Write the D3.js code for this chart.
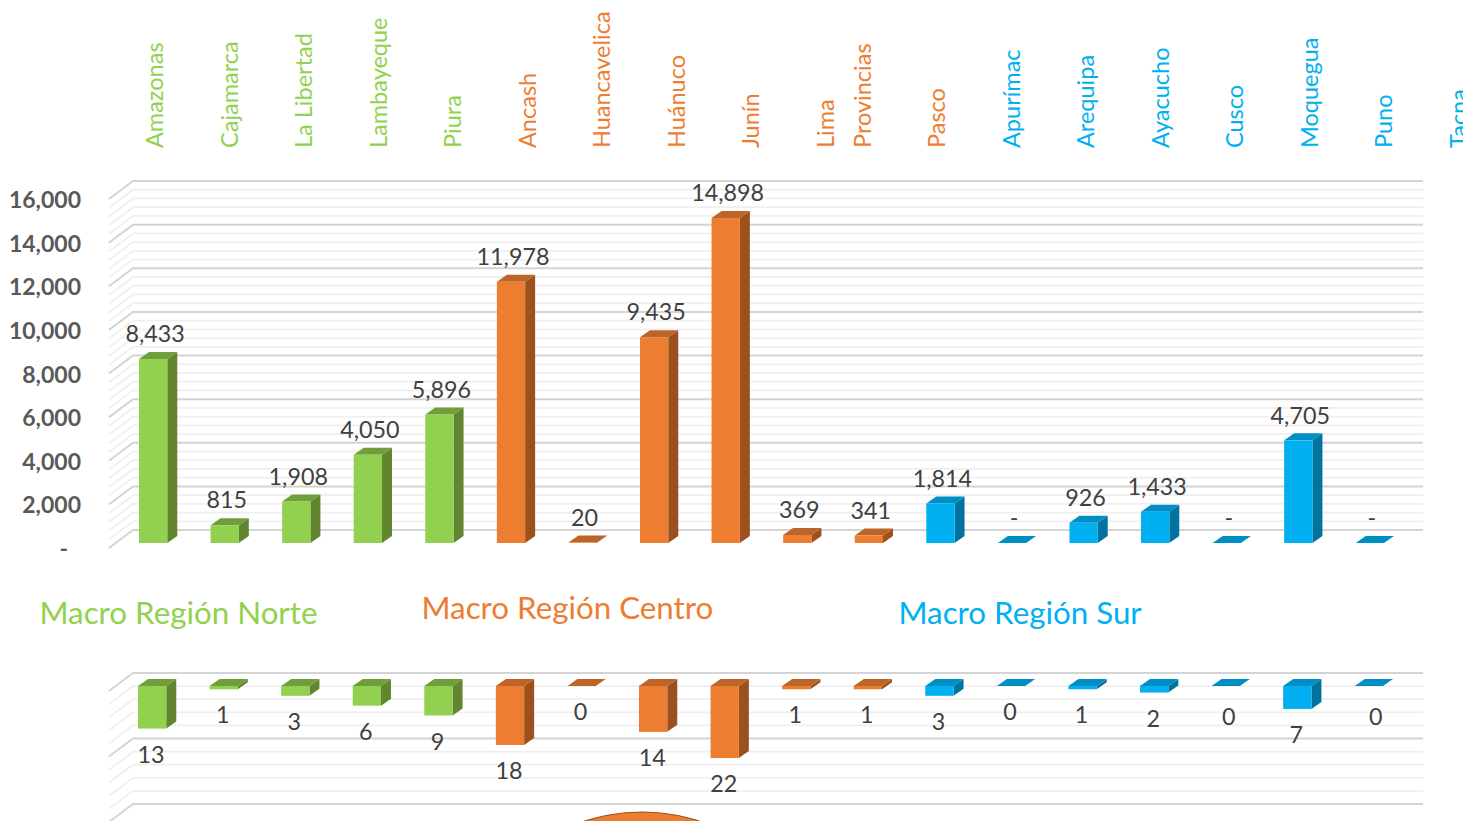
<!DOCTYPE html>
<html><head><meta charset="utf-8">
<script src="https://cdn.jsdelivr.net/npm/d3@7/dist/d3.min.js"></script>
<style>html,body{margin:0;padding:0;background:#fff;overflow:hidden}svg{display:block}text{font-family:Lato,"Open Sans",sans-serif}</style>
</head><body><svg id="c" width="1463" height="821"></svg>
<script>
const categories=["Amazonas","Cajamarca","La Libertad","Lambayeque","Piura","Ancash","Huancavelica","Huánuco","Junín","Lima Provincias","Pasco","Apurímac","Arequipa","Ayacucho","Cusco","Moquegua","Puno","Tacna"];
const regions=["norte","norte","norte","norte","norte","centro","centro","centro","centro","centro","centro","sur","sur","sur","sur","sur","sur","sur"];
const upperValues=[8433,815,1908,4050,5896,11978,20,9435,14898,369,341,1814,0,926,1433,0,4705,0];
const lowerValues=[13,1,3,6,9,18,0,14,22,1,1,3,0,1,2,0,7,0];
const upperTicks=[0,2000,4000,6000,8000,10000,12000,14000,16000];
const regionNames=[["Macro Región Norte","norte"],["Macro Región Centro","centro"],["Macro Región Sur","sur"]];
const palette={norte:{front:"#92D050",side:"#62862F",top:"#6F9E3A"},centro:{front:"#ED7D31",side:"#9A511E",top:"#BD6428"},sur:{front:"#00B0F0",side:"#00749F",top:"#008FC4"}};

const svg=d3.select("#c");
const DX=10,DY=7,WX=24,WY=18,wallL=133,wallR=1423;
const x=d3.scaleBand().domain(categories).range([139,1384]).paddingInner(0.605).paddingOuter(0);
const yUp=d3.scaleLinear().domain([0,16000]).range([548,199]);
const yLow=d3.scaleLinear().domain([0,40]).range([691,822]);

function grid(scale,minorTicks,majorTicks){
  const g=svg.append("g");
  const draw=(ticks,col,w)=>{
    g.selectAll(null).data(ticks).join("path")
      .attr("d",d=>{const y=scale(d)-WY;return `M${wallL-WX},${y+WY}L${wallL},${y}L${wallR},${y}`;})
      .attr("fill","none").attr("stroke",col).attr("stroke-width",w);
  };
  draw(minorTicks.filter(t=>!majorTicks.includes(t)),"#efefef",1.8);
  draw(majorTicks,"#d4d4d4",2);
}
grid(yUp,d3.range(0,16001,400),upperTicks);
grid(yLow,d3.range(0,41,4),[0,20,40]);

function bars(values,top,bottom,dx){
  const g=svg.append("g");
  categories.forEach((c,i)=>{
    const p=palette[regions[i]],x0=x(c)+dx,w=x.bandwidth(),y0=top(values[i]),y1=bottom(values[i]);
    g.append("polygon").attr("points",[[x0+w,y0],[x0+w+DX,y0-DY],[x0+w+DX,y1-DY],[x0+w,y1]].join(" ")).attr("fill",p.side);
    g.append("polygon").attr("points",[[x0,y0],[x0+DX,y0-DY],[x0+w+DX,y0-DY],[x0+w,y0]].join(" ")).attr("fill",p.top);
    if(y1>y0)g.append("rect").attr("x",x0).attr("y",y0).attr("width",w).attr("height",y1-y0).attr("fill",p.front);
  });
}
const upBase=yUp(0)-5,lowBase=yLow(0)-5;
bars(upperValues,v=>yUp(v)-5,()=>upBase,0);
bars(lowerValues,()=>lowBase,v=>yLow(v)-5,-1);

// y axis
const ax=svg.append("g").attr("transform","translate(81,1.2)")
  .call(d3.axisLeft(yUp).tickValues(upperTicks).tickSize(0).tickPadding(0).tickFormat(v=>v?d3.format(",")(v):"-"));
ax.select(".domain").remove();
ax.selectAll("text").attr("font-size",23).attr("font-weight",700).attr("fill","#595959").attr("font-family","Lato,sans-serif");
ax.selectAll("text").filter(d=>d===0).attr("x",-13);

// data labels
const fmt=v=>v?d3.format(",")(v):"-";
svg.append("g").selectAll("text").data(categories).join("text")
  .attr("x",c=>x(c)+x.bandwidth()/2+2)
  .attr("y",(c,i)=>yUp(upperValues[i])-5-25)
  .attr("dy","0.35em").attr("text-anchor","middle").attr("font-size",23.3).attr("fill","#404040")
  .text((c,i)=>fmt(upperValues[i]));
const lowNudge={15:[4,5],17:[8,5]};
svg.append("g").selectAll("text").data(categories).join("text")
  .attr("x",(c,i)=>x(c)+x.bandwidth()/2-2+((lowNudge[i]||[0,0])[0]))
  .attr("y",(c,i)=>yLow(lowerValues[i])-5+26+((lowNudge[i]||[0,0])[1]))
  .attr("dy","0.35em").attr("text-anchor","middle").attr("font-size",23.3).attr("fill","#404040")
  .text((c,i)=>lowerValues[i]);

// rotated category labels
const slot=d3.scaleLinear().domain([0,17.5]).range([163,1467]);
const catG=svg.append("g");
categories.forEach((c,i)=>{
  const k=i+(i>9?0.5:0);
  const parts=c==="Lima Provincias"?c.split(" "):[c];
  parts.forEach((t,j)=>{
    catG.append("text").attr("transform",`translate(${slot(k+j/2)},148) rotate(-90)`)
      .attr("font-size",23.5).attr("font-weight",400).attr("fill",palette[regions[i]].front).text(t);
  });
});

// region captions
const capX=[39.5,421.5,898.5],capY=[624,619,624];
svg.append("g").selectAll("text").data(regionNames).join("text")
  .attr("x",(d,i)=>capX[i]).attr("y",(d,i)=>capY[i])
  .attr("font-size",31.3).attr("fill",d=>palette[d[1]].front).text(d=>d[0]);

// orange circle cropped by the bottom edge
svg.append("circle").attr("cx",642).attr("cy",1000).attr("r",188).attr("fill",palette.centro.front).attr("stroke",palette.centro.side).attr("stroke-width",1);
</script></body></html>
